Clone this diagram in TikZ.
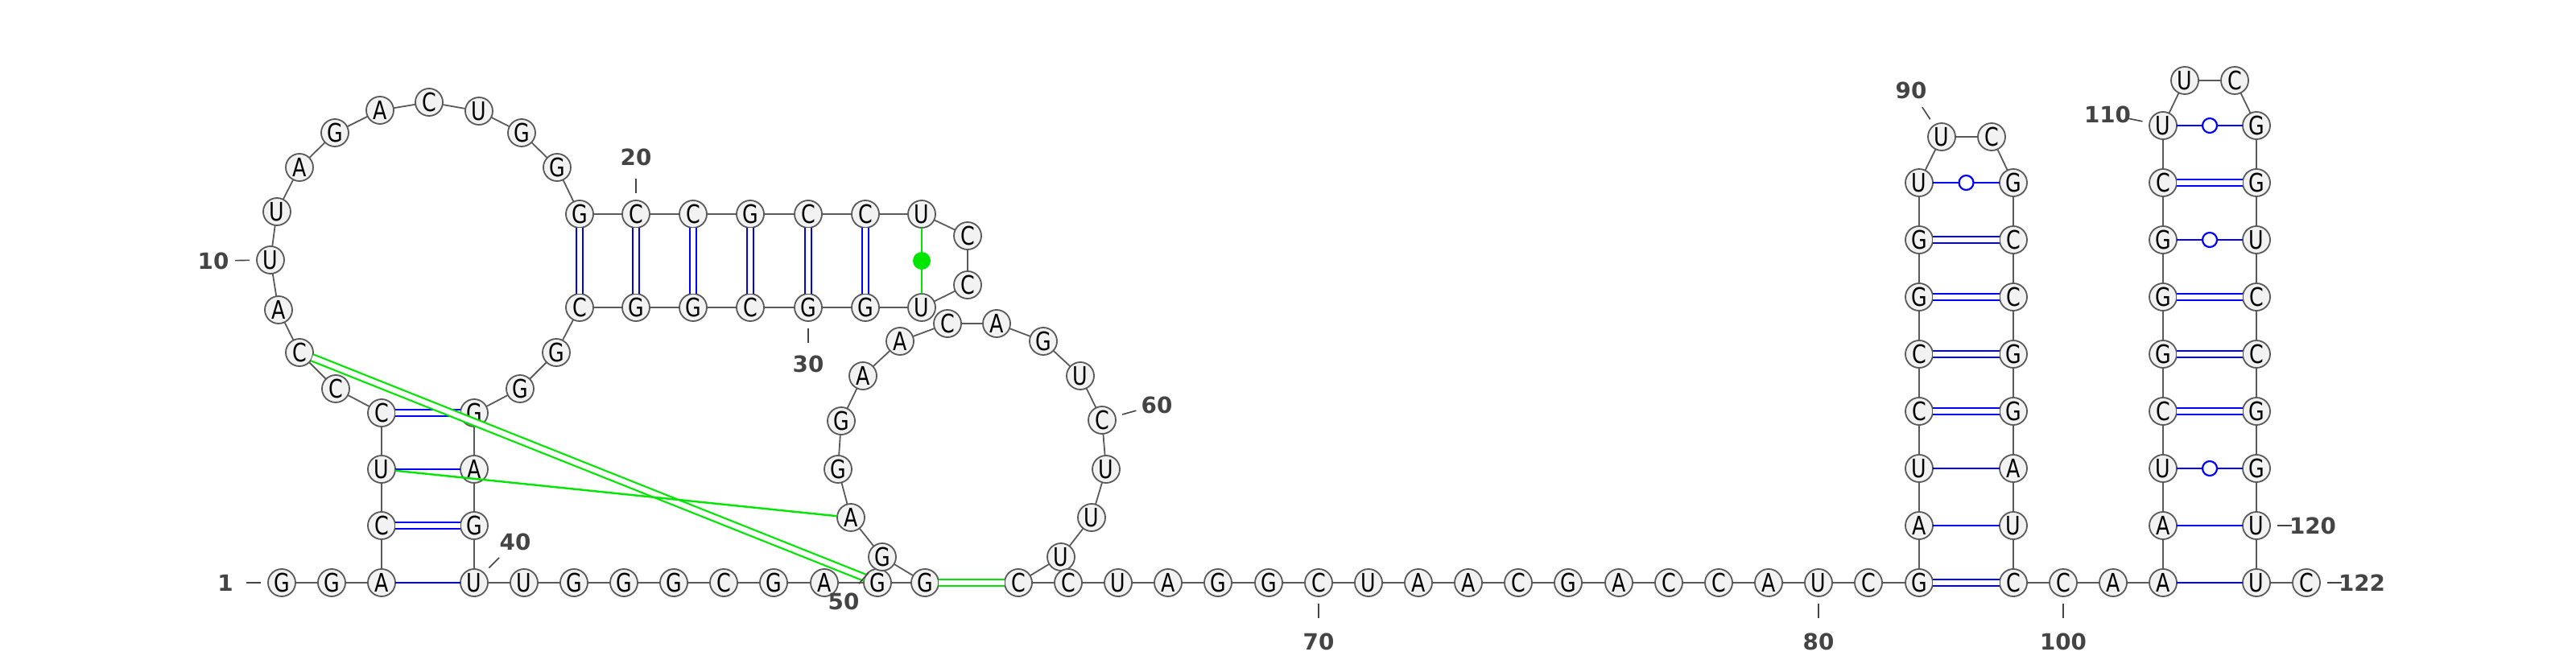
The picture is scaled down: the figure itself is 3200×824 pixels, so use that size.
\documentclass[tikz,border=0pt]{standalone}
\usepackage{fontspec}
\newfontfamily\ntfont[FakeStretch=0.8]{DejaVu Sans}
\newfontfamily\numfont{DejaVu Sans}
\usetikzlibrary{calc}

\definecolor{ntline}{HTML}{5A5A5A}
\definecolor{ntfill}{HTML}{F2F2F2}
\definecolor{numgray}{HTML}{444444}
\definecolor{pkgreen}{RGB}{0,230,0}

\tikzset{
  nt/.style={circle, draw=ntline, fill=ntfill, line width=0.018cm, minimum size=0.34cm,
    inner sep=0pt, outer sep=0pt, font=\ntfont\fontsize{9}{9}\selectfont},
  bb/.style={draw=ntline, line width=0.018cm},
  wc/.style={draw=blue, line width=0.024cm},
  gc/.style={draw=blue, line width=0.022cm, double=white, double distance=0.062cm},
  pk/.style={draw=pkgreen, line width=0.024cm},
  pkgc/.style={draw=pkgreen, line width=0.022cm, double=white, double distance=0.062cm},
  wob/.style={circle, draw=blue, fill=white, line width=0.022cm, minimum size=0.18cm, inner sep=0pt},
  gdot/.style={circle, fill=pkgreen, minimum size=0.22cm, inner sep=0pt},
  num/.style={inner sep=0pt, text=numgray, font=\numfont\bfseries\fontsize{7.9}{8}\selectfont},
  tk/.style={draw=numgray, line width=0.016cm},
}

\begin{document}
\begin{tikzpicture}[x=0.01cm, y=-0.01cm]
            \useasboundingbox (0,0) rectangle (3200,824);
            % 5' end and first stem
            \node[nt] (n1) at (350,724) {G};
            \node[nt] (n2) at (412,724) {G};
            \node[nt] (n3) at (474,724) {A};
            \node[nt] (n4) at (474,653) {C};
            \node[nt] (n5) at (474,583) {U};
            \node[nt] (n6) at (474,513) {C};
            \node[nt] (n7) at (417,483) {C};
            \node[nt] (n8) at (372,438) {C};
            \node[nt] (n9) at (346,385) {A};
            \node[nt] (n10) at (336,323) {U};
            \node[nt] (n11) at (344,263) {U};
            \node[nt] (n12) at (372,208) {A};
            \node[nt] (n13) at (416,165) {G};
            \node[nt] (n14) at (472,137) {A};
            \node[nt] (n15) at (533,127) {C};
            \node[nt] (n16) at (595,138) {U};
            \node[nt] (n17) at (648,165) {G};
            \node[nt] (n18) at (692,208) {G};
            % horizontal hairpin
            \node[nt] (n19) at (720,266) {G};
            \node[nt] (n20) at (790,266) {C};
            \node[nt] (n21) at (861,266) {C};
            \node[nt] (n22) at (932,266) {G};
            \node[nt] (n23) at (1004,266) {C};
            \node[nt] (n24) at (1075,266) {C};
            \node[nt] (n25) at (1145,266) {U};
            \node[nt] (n26) at (1202,293) {C};
            \node[nt] (n27) at (1202,354) {C};
            \node[nt] (n28) at (1145,382) {U};
            \node[nt] (n29) at (1075,382) {G};
            \node[nt] (n30) at (1004,382) {G};
            \node[nt] (n31) at (932,382) {C};
            \node[nt] (n32) at (861,382) {G};
            \node[nt] (n33) at (790,382) {G};
            \node[nt] (n34) at (720,382) {C};
            \node[nt] (n35) at (691,438) {G};
            \node[nt] (n36) at (646,483) {G};
            \node[nt] (n37) at (589,513) {G};
            \node[nt] (n38) at (589,583) {A};
            \node[nt] (n39) at (589,653) {G};
            \node[nt] (n40) at (589,724) {U};
            \node[nt] (n41) at (651,724) {U};
            \node[nt] (n42) at (713,724) {G};
            \node[nt] (n43) at (775,724) {G};
            \node[nt] (n44) at (837,724) {G};
            \node[nt] (n45) at (899,724) {C};
            \node[nt] (n46) at (961,724) {G};
            \node[nt] (n47) at (1024,724) {A};
            \node[nt] (n48) at (1090,724) {G};
            \node[nt] (n49) at (1149,724) {G};
            % second loop
            \node[nt] (n50) at (1096,692) {G};
            \node[nt] (n51) at (1057,643) {A};
            \node[nt] (n52) at (1041,583) {G};
            \node[nt] (n53) at (1045,523) {G};
            \node[nt] (n54) at (1072,467) {A};
            \node[nt] (n55) at (1118,424) {A};
            \node[nt] (n56) at (1177,402) {C};
            \node[nt] (n57) at (1238,402) {A};
            \node[nt] (n58) at (1296,424) {G};
            \node[nt] (n59) at (1342,467) {U};
            \node[nt] (n60) at (1369,522) {C};
            \node[nt] (n61) at (1374,583) {U};
            \node[nt] (n62) at (1356,643) {U};
            \node[nt] (n63) at (1318,692) {U};
            \node[nt] (n64) at (1265,724) {C};
            \node[nt] (n65) at (1327,724) {C};
            \node[nt] (n66) at (1389,724) {U};
            \node[nt] (n67) at (1451,724) {A};
            \node[nt] (n68) at (1513,724) {G};
            \node[nt] (n69) at (1576,724) {G};
            \node[nt] (n70) at (1638,724) {C};
            \node[nt] (n71) at (1700,724) {U};
            \node[nt] (n72) at (1762,724) {A};
            \node[nt] (n73) at (1824,724) {A};
            \node[nt] (n74) at (1886,724) {C};
            \node[nt] (n75) at (1948,724) {G};
            \node[nt] (n76) at (2011,724) {A};
            \node[nt] (n77) at (2073,724) {C};
            \node[nt] (n78) at (2135,724) {C};
            \node[nt] (n79) at (2197,724) {A};
            \node[nt] (n80) at (2259,724) {U};
            \node[nt] (n81) at (2321,724) {C};
            % hairpin at 90
            \node[nt] (n82) at (2384,724) {G};
            \node[nt] (n83) at (2384,653) {A};
            \node[nt] (n84) at (2384,582) {U};
            \node[nt] (n85) at (2384,511) {C};
            \node[nt] (n86) at (2384,440) {C};
            \node[nt] (n87) at (2384,369) {G};
            \node[nt] (n88) at (2384,298) {G};
            \node[nt] (n89) at (2384,227) {U};
            \node[nt] (n90) at (2412,170) {U};
            \node[nt] (n91) at (2474,170) {C};
            \node[nt] (n92) at (2501,227) {G};
            \node[nt] (n93) at (2501,298) {C};
            \node[nt] (n94) at (2501,369) {C};
            \node[nt] (n95) at (2501,440) {G};
            \node[nt] (n96) at (2501,511) {G};
            \node[nt] (n97) at (2501,582) {A};
            \node[nt] (n98) at (2501,653) {U};
            \node[nt] (n99) at (2501,724) {C};
            \node[nt] (n100) at (2563,724) {C};
            \node[nt] (n101) at (2625,724) {A};
            % hairpin at 110
            \node[nt] (n102) at (2687,724) {A};
            \node[nt] (n103) at (2687,653) {A};
            \node[nt] (n104) at (2687,582) {U};
            \node[nt] (n105) at (2687,511) {C};
            \node[nt] (n106) at (2687,440) {G};
            \node[nt] (n107) at (2687,369) {G};
            \node[nt] (n108) at (2687,298) {G};
            \node[nt] (n109) at (2687,227) {C};
            \node[nt] (n110) at (2687,156) {U};
            \node[nt] (n111) at (2714,100) {U};
            \node[nt] (n112) at (2776,100) {C};
            \node[nt] (n113) at (2803,156) {G};
            \node[nt] (n114) at (2803,227) {G};
            \node[nt] (n115) at (2803,298) {U};
            \node[nt] (n116) at (2803,369) {C};
            \node[nt] (n117) at (2803,440) {C};
            \node[nt] (n118) at (2803,511) {G};
            \node[nt] (n119) at (2803,582) {G};
            \node[nt] (n120) at (2803,653) {U};
            \node[nt] (n121) at (2803,724) {U};
            \node[nt] (n122) at (2865,724) {C};

            % backbone
            \foreach \i [evaluate=\i as \j using int(\i+1)] in {1,...,121}
              \draw[bb] (n\i) -- (n\j);

            % pairs
            \draw[wc] (n3) -- (n40);
            \draw[gc] (n4) -- (n39);
            \draw[wc] (n5) -- (n38);
            \draw[gc] (n6) -- (n37);
            \draw[gc] (n19) -- (n34);
            \draw[gc] (n20) -- (n33);
            \draw[gc] (n21) -- (n32);
            \draw[gc] (n22) -- (n31);
            \draw[gc] (n23) -- (n30);
            \draw[gc] (n24) -- (n29);
            \draw[pk] (n25) -- node[gdot] {} (n28);
            \draw[gc] (n82) -- (n99);
            \draw[wc] (n83) -- (n98);
            \draw[wc] (n84) -- (n97);
            \draw[gc] (n85) -- (n96);
            \draw[gc] (n86) -- (n95);
            \draw[gc] (n87) -- (n94);
            \draw[gc] (n88) -- (n93);
            \draw[wc] (n89) -- node[wob] {} (n92);
            \draw[wc] (n102) -- (n121);
            \draw[wc] (n103) -- (n120);
            \draw[wc] (n104) -- node[wob] {} (n119);
            \draw[gc] (n105) -- (n118);
            \draw[gc] (n106) -- (n117);
            \draw[gc] (n107) -- (n116);
            \draw[wc] (n108) -- node[wob] {} (n115);
            \draw[gc] (n109) -- (n114);
            \draw[wc] (n110) -- node[wob] {} (n113);
            % pseudoknot
            \draw[pkgc] (n8) -- (n48);
            \draw[pk] (n5) -- (n51);
            \draw[pkgc] (n49) -- (n64);

            % numbering
            \node[num] (l1) at (280,724) {1};
            \node[num] (l10) at (265,324) {10};
            \node[num] (l20) at (790,195) {20};
            \node[num] (l30) at (1004,452) {30};
            \node[num] (l40) at (640,673) {40};
            \node[num] (l50) at (1048,747) {50};
            \node[num] (l60) at (1437,503) {60};
            \node[num] (l70) at (1638,797) {70};
            \node[num] (l80) at (2259,797) {80};
            \node[num] (l90) at (2374,112) {90};
            \node[num] (l100) at (2563,797) {100};
            \node[num] (l110) at (2618,142) {110};
            \node[num] (l120) at (2873,653) {120};
            \node[num] (l122) at (2934,724) {122};
            \foreach \k in {1,10,20,30,40,50,60,70,80,90,100,110,120,122}
              \draw[tk] ($(n\k)!0.26cm!(l\k)$) -- ($(n\k)!0.44cm!(l\k)$);
\end{tikzpicture}
\end{document}
